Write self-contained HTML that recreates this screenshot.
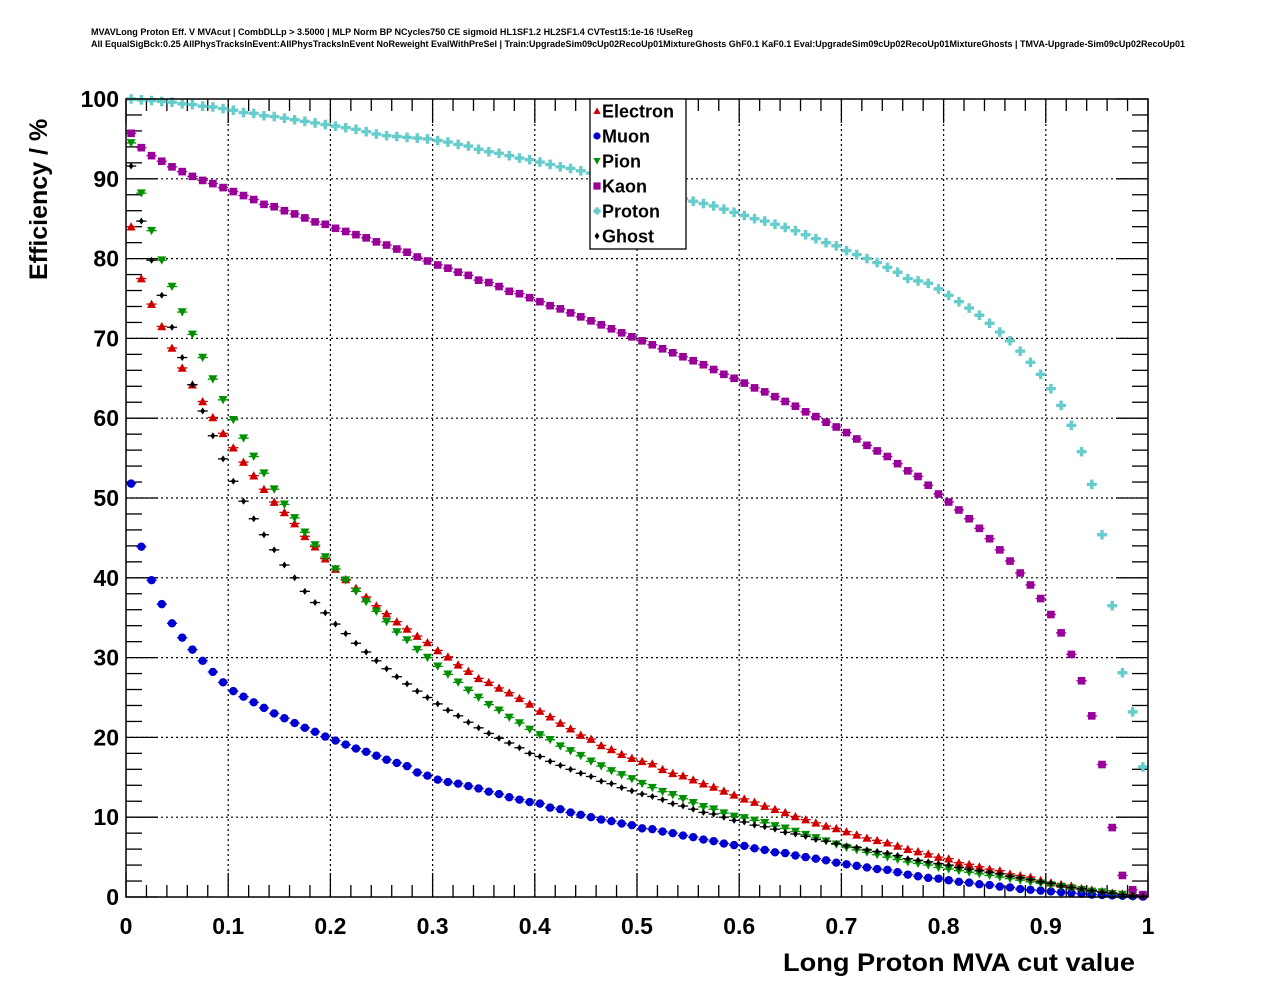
<!DOCTYPE html>
<html><head><meta charset="utf-8"><style>
body{margin:0;background:#fff;}
svg{display:block;font-family:"Liberation Sans",sans-serif;}
</style></head><body>
<svg id="chart" width="1276" height="996" viewBox="0 0 1276 996" xmlns="http://www.w3.org/2000/svg">
<rect x="0" y="0" width="1276" height="996" fill="#fff"/>
<text x="91" y="35" font-size="9" font-weight="bold" textLength="602" lengthAdjust="spacingAndGlyphs">MVAVLong Proton Eff. V MVAcut | CombDLLp &gt; 3.5000 | MLP Norm BP NCycles750 CE sigmoid HL1SF1.2 HL2SF1.4 CVTest15:1e-16 !UseReg</text>
<text x="91" y="47" font-size="9" font-weight="bold" textLength="1094" lengthAdjust="spacingAndGlyphs">All EqualSigBck:0.25 AllPhysTracksInEvent:AllPhysTracksInEvent NoReweight EvalWithPreSel | Train:UpgradeSim09cUp02RecoUp01MixtureGhosts GhF0.1 KaF0.1 Eval:UpgradeSim09cUp02RecoUp01MixtureGhosts | TMVA-Upgrade-Sim09cUp02RecoUp01</text>
<g id="grid"></g><g id="ticks"></g><g id="marks"></g>
<rect x="126" y="99" width="1022" height="798" fill="none" stroke="#000" stroke-width="1.5"/>
<g id="labels"></g>
<text transform="translate(47,280) rotate(-90)" font-size="25" font-weight="bold">Efficiency / %</text>
<text x="1135" y="971" text-anchor="end" font-size="25" font-weight="bold" textLength="352" lengthAdjust="spacingAndGlyphs">Long Proton MVA cut value</text>
<g id="legend"></g>
</svg>
<script>
const xTicks=[0,0.1,0.2,0.3,0.4,0.5,0.6,0.7,0.8,0.9,1];
const xTickLabels=["0","0.1","0.2","0.3","0.4","0.5","0.6","0.7","0.8","0.9","1"];
const yTicks=[0,10,20,30,40,50,60,70,80,90,100];
const yTickLabels=["0","10","20","30","40","50","60","70","80","90","100"];
const seriesNames=["Electron","Muon","Pion","Kaon","Proton","Ghost"];
const electron=[84,77.5,74.3,71.5,68.8,66.3,64.2,62.1,60.1,58.1,56.3,54.5,52.8,51.1,49.5,48.2,46.8,45.2,43.9,42.4,41.1,39.8,38.7,37.6,36.5,35.5,34.5,33.6,32.7,31.9,30.9,30.1,29.1,28.3,27.4,26.9,26.2,25.6,24.9,24.2,23.3,22.6,21.8,21.1,20.3,19.8,19.0,18.5,17.9,17.4,17.0,16.7,16.0,15.5,15.2,14.7,14.2,13.8,13.3,12.8,12.3,11.9,11.4,11.0,10.6,10.1,9.7,9.3,8.9,8.6,8.2,7.8,7.4,7.1,6.8,6.4,6.0,5.7,5.4,5.0,4.8,4.3,4.1,3.8,3.5,3.3,2.9,2.7,2.5,2.1,1.8,1.6,1.4,1.1,0.9,0.7,0.5,0.4,0.3,0.2];
const muon=[51.8,43.9,39.7,36.7,34.3,32.5,31.0,29.6,28.2,26.9,25.8,25.1,24.4,23.7,23.0,22.4,21.8,21.2,20.7,20.1,19.6,19.1,18.6,18.2,17.7,17.2,16.8,16.4,15.6,15.2,14.7,14.4,14.2,13.9,13.6,13.2,12.9,12.5,12.2,11.9,11.7,11.2,11.0,10.6,10.3,10.0,9.7,9.5,9.2,9.0,8.6,8.5,8.2,8.0,7.7,7.5,7.2,7.0,6.7,6.5,6.4,6.1,5.9,5.6,5.5,5.2,5.0,4.8,4.6,4.3,4.1,3.9,3.7,3.5,3.4,3.1,2.8,2.6,2.4,2.3,2.1,1.9,1.8,1.6,1.5,1.3,1.2,1.0,0.9,0.8,0.7,0.6,0.5,0.4,0.3,0.25,0.2,0.15,0.1,0.05];
const pion=[94.5,88.2,83.5,79.8,76.5,73.3,70.5,67.6,64.9,62.3,59.8,57.5,55.2,53.1,51.1,49.2,47.5,45.7,44.1,42.6,41.1,39.7,38.3,37.0,35.8,34.5,33.2,32.2,31.0,30.0,28.9,27.9,26.9,25.9,25.0,24.1,23.4,22.5,21.8,21.0,20.3,19.7,18.9,18.3,17.7,17.0,16.4,15.8,15.3,14.8,14.2,13.7,13.2,12.8,12.3,11.8,11.3,11.0,10.5,10.1,9.9,9.6,9.3,8.9,8.6,8.2,7.8,7.4,7.0,6.6,6.2,5.9,5.6,5.3,5.0,4.7,4.4,4.2,4.0,3.7,3.5,3.3,3.1,2.9,2.7,2.5,2.3,2.1,1.9,1.7,1.5,1.3,1.1,0.9,0.7,0.6,0.4,0.3,0.2,0.1];
const kaon=[95.7,93.9,92.9,92.2,91.5,90.9,90.3,89.8,89.4,88.9,88.4,87.9,87.4,86.8,86.5,86.0,85.6,85.1,84.6,84.3,83.8,83.4,83.0,82.6,82.1,81.7,81.2,80.8,80.2,79.7,79.2,78.8,78.3,77.9,77.3,77.0,76.5,75.9,75.6,75.1,74.6,74.1,73.7,73.2,72.7,72.2,71.7,71.2,70.7,70.2,69.7,69.2,68.7,68.2,67.7,67.2,66.7,66.1,65.5,65.0,64.4,63.8,63.3,62.7,62.1,61.5,60.8,60.2,59.5,58.9,58.2,57.4,56.6,55.9,55.2,54.3,53.4,52.7,51.6,50.5,49.5,48.5,47.4,46.2,44.9,43.5,42.1,40.6,39.1,37.4,35.4,33.1,30.4,27.1,22.7,16.6,8.7,2.7,0.9,0.3];
const proton=[100,99.9,99.8,99.7,99.6,99.4,99.3,99.1,99.0,98.8,98.6,98.3,98.2,97.9,97.8,97.6,97.4,97.2,97.0,96.8,96.6,96.4,96.2,95.9,95.6,95.4,95.3,95.2,95.1,95.0,94.8,94.6,94.3,94.1,93.7,93.4,93.2,92.9,92.6,92.4,92.1,91.8,91.5,91.3,91.0,90.7,90.4,90.0,89.7,89.3,89.0,88.6,88.2,87.9,87.5,87.2,86.9,86.6,86.2,85.8,85.4,85.0,84.7,84.3,83.9,83.5,83.0,82.5,82.0,81.6,81.0,80.5,80.0,79.5,78.9,78.3,77.5,77.2,76.9,76.2,75.4,74.6,73.8,72.9,71.9,70.8,69.7,68.4,67.0,65.5,63.7,61.6,59.1,55.8,51.7,45.4,36.5,28.1,23.2,16.3];
const ghost=[91.6,84.7,79.8,75.4,71.4,67.6,64.2,60.9,57.8,54.9,52.1,49.6,47.4,45.4,43.5,41.6,40.0,38.3,36.9,35.6,34.2,33.0,31.8,30.7,29.6,28.6,27.6,26.7,25.8,25.0,24.2,23.4,22.7,21.9,21.2,20.5,19.9,19.3,18.7,18.0,17.6,17.0,16.5,16.0,15.5,15.1,14.5,14.2,13.7,13.3,12.9,12.6,12.2,11.7,11.4,11.0,10.6,10.4,10.0,9.6,9.4,9.0,8.8,8.5,8.1,7.9,7.6,7.2,7.0,6.7,6.4,6.2,5.9,5.7,5.5,5.2,4.8,4.6,4.4,4.2,4.0,3.7,3.5,3.3,3.1,2.9,2.6,2.4,2.2,1.9,1.7,1.4,1.2,1.0,0.8,0.6,0.5,0.3,0.2,0.1];

const NS="http://www.w3.org/2000/svg";
const X0=126,X1=1148,Y0=897,Y1=99;
function xs(v){return X0+(X1-X0)*v;}
function ys(v){return Y0-(Y0-Y1)*v/100;}
function mk(tag,attrs,parent){const e=document.createElementNS(NS,tag);for(const k in attrs)e.setAttribute(k,attrs[k]);parent.appendChild(e);return e;}
const grid=document.getElementById('grid'),ticks=document.getElementById('ticks'),labels=document.getElementById('labels'),marks=document.getElementById('marks'),legend=document.getElementById('legend');
xTicks.forEach((t,i)=>{if(i>0&&i<xTicks.length-1){const l=mk('line',{x1:xs(t),x2:xs(t),y1:Y1,y2:Y0,stroke:'#000','stroke-width':1.2,'stroke-dasharray':'2,3'},grid);

}});
yTicks.forEach((t,i)=>{if(i>0&&i<yTicks.length-1){const l=mk('line',{x1:X0,x2:X1,y1:ys(t),y2:ys(t),stroke:'#000','stroke-width':1.2,'stroke-dasharray':'2,3'},grid);

}});
for(let i=0;i<=50;i++){const v=i/50;const len=(i%5===0)?24:12;
 mk('line',{x1:xs(v),x2:xs(v),y1:Y0,y2:Y0-len,stroke:'#000','stroke-width':1.3},ticks);
 mk('line',{x1:xs(v),x2:xs(v),y1:Y1,y2:Y1+len,stroke:'#000','stroke-width':1.3},ticks);}
for(let i=0;i<=50;i++){const v=i*2;const len=(i%5===0)?32:16;
 mk('line',{x1:X0,x2:X0+len,y1:ys(v),y2:ys(v),stroke:'#000','stroke-width':1.3},ticks);
 mk('line',{x1:X1,x2:X1-len,y1:ys(v),y2:ys(v),stroke:'#000','stroke-width':1.3},ticks);}
xTicks.forEach((t,i)=>{const e=mk('text',{x:xs(t),y:934,'text-anchor':'middle','font-size':23,'font-weight':'bold'},labels);e.textContent=xTickLabels[i];

});
yTicks.forEach((t,i)=>{const e=mk('text',{x:119,y:ys(t)+8,'text-anchor':'end','font-size':23,'font-weight':'bold'},labels);e.textContent=yTickLabels[i];

});
function marker(type,cx,cy,p,color,s){
 if(type==='tri')return mk('path',{d:`M${cx-s} ${cy+s*0.85}L${cx+s} ${cy+s*0.85}L${cx} ${cy-s}Z`,fill:color},p);
 if(type==='dtri')return mk('path',{d:`M${cx-s} ${cy-s*0.85}L${cx+s} ${cy-s*0.85}L${cx} ${cy+s}Z`,fill:color},p);
 if(type==='circ')return mk('circle',{cx:cx,cy:cy,r:s,fill:color},p);
 if(type==='sq')return mk('rect',{x:cx-s,y:cy-s,width:2*s,height:2*s,fill:color},p);
 if(type==='plus')return mk('path',{d:`M${cx-s} ${cy-1.7}h${s-1.7}v-${s-1.7}h3.4v${s-1.7}h${s-1.7}v3.4h-${s-1.7}v${s-1.7}h-3.4v-${s-1.7}h-${s-1.7}Z`,fill:color},p);
 if(type==='dia')return mk('path',{d:`M${cx} ${cy-s}L${cx+s*0.7} ${cy}L${cx} ${cy+s}L${cx-s*0.7} ${cy}Z`,fill:color},p);
}
const styles=[["tri","#d00000",4.5],["circ","#0000d0",4.2],["dtri","#009000",4.5],["sq","#990099",3.8],["plus","#66cccc",4.8],["dia","#000000",3.5]];
const data=[electron,muon,pion,kaon,proton,ghost];
data.forEach((arr,si)=>{const g=mk('g',{},marks);
 
 
 const [type,color,s]=styles[si];
 arr.forEach((v,k)=>{const xc=xs((k+0.5)/arr.length),yc=ys(v);const hw=(xs(1/arr.length)-xs(0))/2;
  mk('line',{x1:xc-hw,x2:xc+hw,y1:yc,y2:yc,stroke:color,'stroke-width':1.3},g);
  const m=marker(type,xc,yc,g,color,s);
  
  });});
const lb=mk('rect',{x:590,y:99,width:96,height:150,fill:'#fff',stroke:'#000','stroke-width':1.3},legend);


seriesNames.forEach((n,i)=>{const yy=111+i*25;const g=mk('g',{},legend);
 
 
 const [type,color,s]=styles[i];marker(type,597,yy,g,color,Math.min(s,3.6));
 const t=mk('text',{x:602,y:yy+6.5,'font-size':18,'font-weight':'bold'},g);t.textContent=n;});
</script>
</body></html>
